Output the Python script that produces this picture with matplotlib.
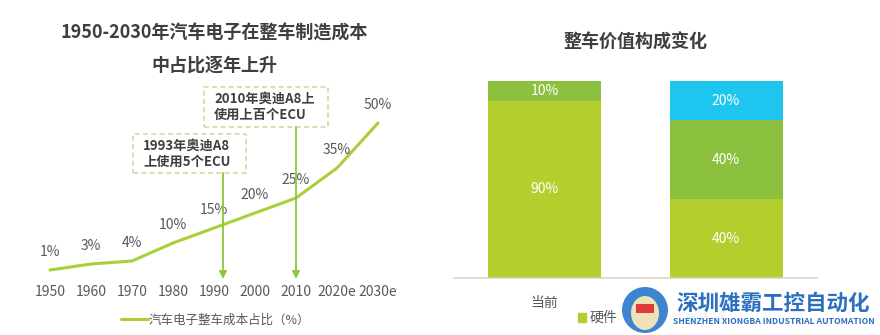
import matplotlib.pyplot as plt
from matplotlib.patches import Rectangle, Circle, Ellipse, Patch

plt.rcParams["font.family"] = ["Noto Sans CJK SC", "DejaVu Sans"]

# share of automotive electronics in vehicle cost
years = ["1950", "1960", "1970", "1980", "1990", "2000", "2010", "2020e", "2030e"]
share = [1, 3, 4, 10, 15, 20, 25, 35, 50]

# vehicle value composition (hardware / software / content)
stages = ["当前", "未来"]
hardware = [90, 40]
software = [10, 40]
content = [0, 20]

LINE = "#a9cf3a"
LIME = "#b3cf2d"
GREEN = "#8cc03f"
CYAN = "#1ec6ef"
GREY = "#595959"
DARK = "#3f3f3f"

W, H = 880, 335
fig = plt.figure(figsize=(W / 100, H / 100), dpi=100)


def box(x0, y0, x1, y1):
    # pixel box (top-left origin) -> figure fraction rect
    return [x0 / W, 1 - y1 / H, (x1 - x0) / W, (y1 - y0) / H]


# ---------------- left: line chart ----------------
ax = fig.add_axes(box(30, 80, 400, 280))
ax.set_xlim((30 - 50) / 41, (400 - 50) / 41)
ax.set_ylim((273 - 280) / 3, (273 - 80) / 3)
ax.axis("off")

xs = list(range(len(years)))
ax.plot(xs, share, color=LINE, lw=2.2, solid_capstyle="round", label="汽车电子整车成本占比（%）")
for x, v in zip(xs, share):
    ax.annotate(f"{v}%", (x, v), xytext=(0, 13), textcoords="offset points",
                ha="center", va="center", fontsize=10, color=GREY)
for x, lab in zip(xs, years):
    ax.text(x, (273 - 292) / 3, lab, ha="center", va="center", fontsize=10, color=GREY)

# callout boxes with arrows
notes = [
    ((133, 134, 246, 173), "1993年奥迪A8\n上使用5个ECU", 4.22),
    ((204, 87, 328, 127), "2010年奥迪A8上\n使用上百个ECU", 6.0),
]
for (x0, y0, x1, y1), txt, xa in notes:
    i0, i1 = (x0 - 50) / 41, (x1 - 50) / 41
    v0, v1 = (273 - y1) / 3, (273 - y0) / 3
    ax.add_patch(Rectangle((i0, v0), i1 - i0, v1 - v0, fill=False, ec="#cddba6",
                           lw=1.2, ls=(0, (3, 2)), clip_on=False))
    ax.text(i0 + 10 / 41, (v0 + v1) / 2, txt, ha="left", va="center", fontsize=9.5,
            fontweight="bold", color=DARK, linespacing=1.2)
    ax.annotate("", xy=(xa, (273 - 279) / 3), xytext=(xa, v0),
                arrowprops=dict(arrowstyle="-|>", color="#8dc63f", lw=1.3,
                                mutation_scale=11, shrinkA=0, shrinkB=0))

ax.legend(loc="center left", bbox_to_anchor=(110 / W, 1 - 320 / H),
          bbox_transform=fig.transFigure, frameon=False, fontsize=9,
          handlelength=2.1, labelcolor=GREY, handletextpad=0.1)

fig.text(214 / W, 1 - 33 / H, "1950-2030年汽车电子在整车制造成本", ha="center", va="center",
         fontsize=13, fontweight="bold", color=DARK)
fig.text(214 / W, 1 - 65 / H, "中占比逐年上升", ha="center", va="center",
         fontsize=13, fontweight="bold", color=DARK)

# ---------------- right: stacked bars ----------------
bx = fig.add_axes(box(454, 81, 817, 278))
bx.set_xlim(-0.4986, 1.501)
bx.set_ylim(0, 100)
pos = [0, 1]
width = 0.623
bx.bar(pos, hardware, width, color=LIME)
bx.bar(pos, software, width, bottom=hardware, color=GREEN)
tops = [h + s for h, s in zip(hardware, software)]
bx.bar(pos, content, width, bottom=tops, color=CYAN)

for vals, base in [(hardware, [0, 0]), (software, hardware), (content, tops)]:
    for p, v, b in zip(pos, vals, base):
        if v:
            bx.text(p, b + v / 2, f"{v}%", ha="center", va="center", fontsize=10, color="white")

for s in ["top", "left", "right"]:
    bx.spines[s].set_visible(False)
bx.spines["bottom"].set_color("#dcd3c4")
bx.spines["bottom"].set_linewidth(1.2)
bx.set_yticks([])
bx.set_xticks(pos)
bx.set_xticklabels(stages, fontsize=10, color=GREY)
bx.tick_params(axis="x", length=0, pad=13)

bx.legend(handles=[Patch(color=LIME, label="硬件"), Patch(color=GREEN, label="软件"),
                   Patch(color=CYAN, label="内容")],
          loc="center left", bbox_to_anchor=(565 / W, 1 - 318 / H),
          bbox_transform=fig.transFigure, ncol=3, frameon=False, fontsize=10,
          handlelength=0.6, handleheight=0.6, handletextpad=0.3, columnspacing=1.0,
          labelcolor=GREY)

fig.text(635 / W, 1 - 42 / H, "整车价值构成变化", ha="center", va="center",
         fontsize=13, fontweight="bold", color=DARK)

# ---------------- watermark overlay ----------------
ov = fig.add_axes([0, 0, 1, 1], zorder=10)
ov.set_xlim(0, W)
ov.set_ylim(H, 0)
ov.axis("off")
ov.patch.set_alpha(0)
ov.add_patch(Rectangle((668, 287), 212, 46, color="white", alpha=0.92, lw=0))
ov.add_patch(Circle((645, 310), 26, color="white", lw=0))
ov.add_patch(Circle((645, 310), 23, color="#3d84d1", lw=0))
ov.add_patch(Ellipse((645, 313), 28, 34, color="#efe2b8", lw=0))
ov.add_patch(Rectangle((636, 304), 18, 9, color="#e03a3a", lw=0))
ov.text(773, 303, "深圳雄霸工控自动化", ha="center", va="center", fontsize=15.5,
        fontweight="bold", color="#2c6fc0")
ov.text(774, 322, "SHENZHEN XIONGBA INDUSTRIAL AUTOMATION", ha="center", va="center",
        fontsize=6.2, fontweight="bold", color="#2c6fc0")

fig.savefig("out.png", dpi=100)
